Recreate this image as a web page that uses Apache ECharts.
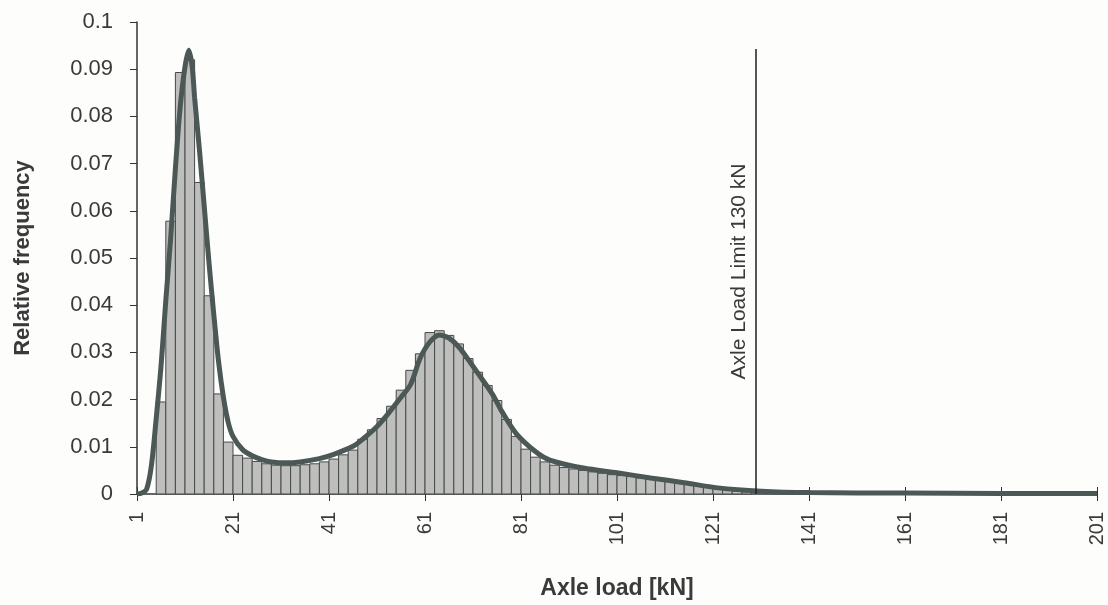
<!DOCTYPE html>
<html>
<head>
<meta charset="utf-8">
<script src="https://cdn.jsdelivr.net/npm/echarts@6.0.0/dist/echarts.min.js"></script>
<style>
  html, body { margin: 0; padding: 0; background: #fdfdfc; }
  #main { width: 1108px; height: 605px; }
</style>
</head>
<body>
<div id="main"></div>
<script>
// histogram bins, 2 kN wide, given by their lower edge
var binStart = [5, 7, 9, 11, 13, 15, 17, 19, 21, 23, 25, 27, 29, 31, 33, 35, 37, 39, 41, 43,
  45, 47, 49, 51, 53, 55, 57, 59, 61, 63, 65, 67, 69, 71, 73, 75, 77, 79, 81, 83,
  85, 87, 89, 91, 93, 95, 97, 99, 101, 103, 105, 107, 109, 111, 113, 115, 117, 119, 121, 123,
  125, 127];
var binFreq = [0.0195, 0.0578, 0.0893, 0.092, 0.066, 0.042, 0.0212, 0.011, 0.0082, 0.0076,
  0.0069, 0.0064, 0.0061, 0.006, 0.006, 0.0062, 0.0064, 0.0068, 0.0074, 0.0083,
  0.0093, 0.0116, 0.0136, 0.016, 0.0186, 0.022, 0.0262, 0.0297, 0.0342, 0.0346,
  0.0336, 0.0318, 0.0287, 0.0258, 0.023, 0.0198, 0.0158, 0.0122, 0.0095, 0.0078,
  0.0068, 0.0061, 0.0056, 0.0053, 0.005, 0.0047, 0.0044, 0.0041, 0.0039, 0.0037,
  0.0034, 0.0032, 0.003, 0.0027, 0.0024, 0.0021, 0.0018, 0.0015, 0.0012, 0.0009,
  0.0006, 0.0004];
var binWidth = 2;

// fitted density curve
var curveX = [1, 2, 3, 4, 5, 6, 7, 8, 9, 10, 11, 11.8, 12.5, 13, 14, 15, 16, 17, 18, 19,
  20, 21, 23, 25, 27, 29, 32, 35, 39, 42, 46, 48, 51, 53, 56, 58, 60, 62, 64, 66,
  68, 70, 72, 75, 77, 80, 84, 87, 94, 101, 108, 115, 122, 131, 141, 161, 181, 201];
var curveY = [0, 0.0002, 0.001, 0.006, 0.016, 0.027, 0.041, 0.054, 0.069, 0.082, 0.0905, 0.094,
  0.0905, 0.084, 0.073, 0.061, 0.049, 0.038, 0.028, 0.0205, 0.0152, 0.0122, 0.0094, 0.0081,
  0.0073, 0.0068, 0.0066, 0.0068, 0.0075, 0.0084, 0.0101, 0.0116, 0.0143, 0.0166, 0.0205,
  0.0232, 0.0288, 0.0322, 0.0337, 0.033, 0.0312, 0.0285, 0.0256, 0.0212, 0.0175, 0.0128,
  0.009, 0.0072, 0.0055, 0.0045, 0.0034, 0.0024, 0.0013, 0.0006, 0.0003, 0.0002, 0.0001, 0.0001];

var limitLoad = 130;
var limitTop = 0.0943;

var chart = echarts.init(document.getElementById('main'));

var bins = binStart.map(function (s, i) { return [s, s + binWidth, binFreq[i]]; });
var curve = curveX.map(function (x, i) { return [x, curveY[i]]; });

var font = 'Liberation Sans, Arial, sans-serif';

var option = {
  animation: false,
  backgroundColor: '#fdfdfc',
  grid: { left: 137, right: 11, top: 22, bottom: 107 },
  xAxis: [{
    type: 'value',
    min: 1,
    max: 201,
    interval: 20,
    name: 'Axle load [kN]',
    nameLocation: 'middle',
    nameGap: 83,
    nameTextStyle: { fontFamily: font, fontWeight: 'bold', fontSize: 23, color: '#3a3a3a' },
    splitLine: { show: false },
    axisLine: { lineStyle: { color: '#333', width: 1.5 } },
    axisTick: { length: 7, lineStyle: { color: '#333' } },
    axisLabel: { rotate: 90, margin: 18, fontFamily: font, fontSize: 20, color: '#3a3a3a' }
  }, {
    // inside half of the crossing tick marks
    type: 'value',
    position: 'bottom',
    min: 1,
    max: 201,
    interval: 20,
    splitLine: { show: false },
    axisLine: { show: false },
    axisTick: { inside: true, length: 7, lineStyle: { color: '#333' } },
    axisLabel: { show: false }
  }],
  yAxis: {
    type: 'value',
    min: 0,
    max: 0.1,
    interval: 0.01,
    name: 'Relative frequency',
    nameLocation: 'middle',
    nameGap: 103,
    nameTextStyle: { fontFamily: font, fontWeight: 'bold', fontSize: 22, color: '#3a3a3a' },
    splitLine: { show: false },
    axisLine: { show: true, lineStyle: { color: '#333', width: 1.5 } },
    axisTick: { show: true, length: 7, lineStyle: { color: '#333' } },
    axisLabel: { margin: 24, fontFamily: font, fontSize: 22, color: '#3a3a3a' }
  },
  series: [{
    type: 'custom',
    data: bins,
    encode: { x: [0, 1], y: 2 },
    renderItem: function (params, api) {
      var p0 = api.coord([api.value(0), api.value(2)]);
      var p1 = api.coord([api.value(1), 0]);
      return {
        type: 'rect',
        shape: { x: p0[0], y: p0[1], width: p1[0] - p0[0], height: p1[1] - p0[1] },
        style: { fill: '#bebebc', stroke: '#454a48', lineWidth: 1 }
      };
    }
  }, {
    type: 'line',
    data: curve,
    smooth: 0.3,
    symbol: 'none',
    lineStyle: { color: '#4c5855', width: 5 },
    z: 3,
    markLine: {
      silent: true,
      symbol: 'none',
      lineStyle: { color: '#1e1e1e', width: 1.5, type: 'solid' },
      label: {
        show: true,
        position: 'insideMiddleTop',
        distance: 6,
        formatter: 'Axle Load Limit 130 kN',
        fontFamily: font,
        fontSize: 21,
        color: '#3a3a3a'
      },
      data: [[{ coord: [limitLoad, 0] }, { coord: [limitLoad, limitTop] }]]
    }
  }]
};

chart.setOption(option);
</script>
</body>
</html>
